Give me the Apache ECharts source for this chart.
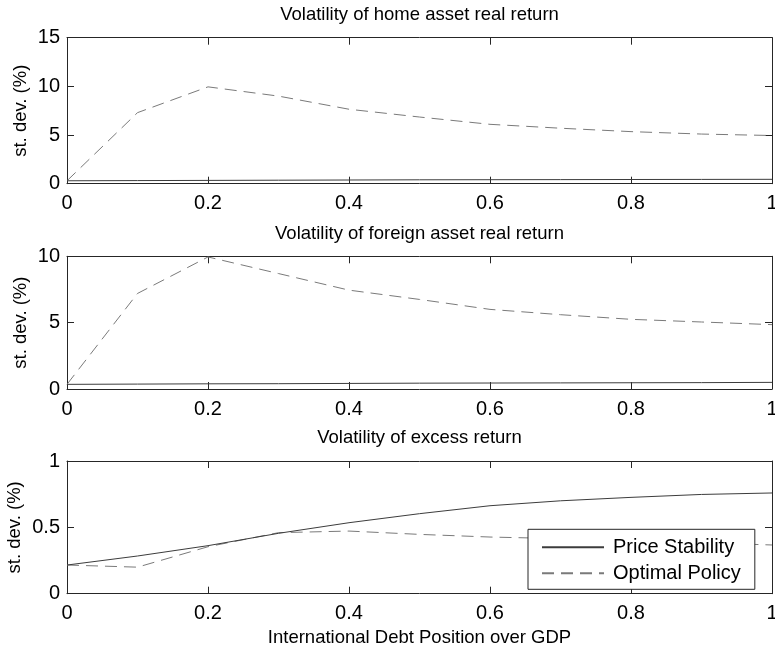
<!DOCTYPE html>
<html>
<head>
<meta charset="utf-8">
<script src="https://cdn.jsdelivr.net/npm/echarts@6/dist/echarts.min.js"></script>
<style>
  html, body { margin: 0; padding: 0; background: #fff; }
  #chart { width: 775px; height: 652px; }
</style>
</head>
<body>
<div id="chart"></div>
<script>
// Debt position over GDP (x values shared by all panels)
const debtPosition = [0, 0.1, 0.2, 0.3, 0.4, 0.5, 0.6, 0.7, 0.8, 0.9, 1.0];

// Panel 1: volatility of home asset real return (st. dev., %)
const homePriceStability = [0.30, 0.32, 0.34, 0.36, 0.38, 0.40, 0.41, 0.42, 0.43, 0.44, 0.45];
const homeOptimalPolicy  = [0.30, 7.30, 9.95, 9.00, 7.65, 6.85, 6.10, 5.70, 5.35, 5.10, 4.95];

// Panel 2: volatility of foreign asset real return (st. dev., %)
const foreignPriceStability = [0.35, 0.37, 0.39, 0.40, 0.42, 0.44, 0.45, 0.46, 0.47, 0.48, 0.50];
const foreignOptimalPolicy  = [0.35, 7.20, 9.95, 8.70, 7.45, 6.75, 6.00, 5.60, 5.25, 5.05, 4.85];

// Panel 3: volatility of excess return (st. dev., %)
const excessPriceStability = [0.216, 0.284, 0.362, 0.455, 0.535, 0.603, 0.663, 0.700, 0.726, 0.748, 0.759];
const excessOptimalPolicy  = [0.216, 0.200, 0.354, 0.460, 0.472, 0.447, 0.427, 0.415, 0.400, 0.385, 0.367];

const panelTitles = [
  'Volatility of home asset real return',
  'Volatility of foreign asset real return',
  'Volatility of excess return'
];
const yMax = [15, 10, 1];
const yInterval = [5, 5, 0.5];
const xTicks = ['0', '0.2', '0.4', '0.6', '0.8', '1'];
const seriesNames = ['Price Stability', 'Optimal Policy'];
const xLabel = 'International Debt Position over GDP';
const yLabel = 'st. dev. (%)';

const FONT = 'Liberation Sans, Arial, Helvetica, sans-serif';
const AXIS_COLOR = '#262626';
const SOLID_COLOR = '#3c3c3c';
const DASH_COLOR = '#7a7a7a';

const grids = [
  { left: 67, right: 3, top: 37.7, height: 146, outerBoundsMode: 'none', containLabel: false },
  { left: 67, right: 3, top: 256.3, height: 132.7, outerBoundsMode: 'none', containLabel: false },
  { left: 67, right: 3, top: 461, height: 132.7, outerBoundsMode: 'none', containLabel: false }
];
// y-axis title offset per panel (wider tick labels push it further out)
const yNameGap = [37, 37, 43];

const panels = [
  [homePriceStability, homeOptimalPolicy],
  [foreignPriceStability, foreignOptimalPolicy],
  [excessPriceStability, excessOptimalPolicy]
];

function pairs(ys) {
  return debtPosition.map((x, i) => [x, ys[i]]);
}

function fmtX(v) {
  const idx = Math.round(v / 0.2);
  return xTicks[idx] !== undefined ? xTicks[idx] : String(v);
}

const xAxes = [];
const yAxes = [];
const series = [];

grids.forEach((g, i) => {
  const common = {
    gridIndex: i,
    type: 'value',
    min: 0,
    axisLine: { show: true, onZero: false, lineStyle: { color: AXIS_COLOR, width: 1 } },
    axisTick: { show: true, inside: true, length: 7, lineStyle: { color: AXIS_COLOR, width: 1 } },
    splitLine: { show: false }
  };
  // bottom x axis with labels
  xAxes.push(Object.assign({}, common, {
    position: 'bottom',
    max: 1,
    interval: 0.2,
    axisLabel: { show: true, fontSize: 20, color: '#000', fontFamily: FONT, margin: 10, formatter: fmtX },
    name: i === 2 ? xLabel : '',
    nameLocation: 'middle',
    nameGap: 35,
    nameMoveOverlap: false,
    nameTextStyle: { fontSize: 18.5, color: '#000', fontFamily: FONT }
  }));
  // top x axis (box edge with ticks)
  xAxes.push(Object.assign({}, common, {
    position: 'top',
    max: 1,
    interval: 0.2,
    axisLabel: { show: false }
  }));
  // left y axis with labels
  yAxes.push(Object.assign({}, common, {
    position: 'left',
    max: yMax[i],
    interval: yInterval[i],
    axisLabel: { show: true, fontSize: 20, color: '#000', fontFamily: FONT, margin: 7 },
    name: yLabel,
    nameLocation: 'middle',
    nameRotate: 90,
    nameGap: yNameGap[i],
    nameMoveOverlap: false,
    nameTextStyle: { fontSize: 18.5, color: '#000', fontFamily: FONT }
  }));
  // right y axis (box edge with ticks)
  yAxes.push(Object.assign({}, common, {
    position: 'right',
    max: yMax[i],
    interval: yInterval[i],
    axisLabel: { show: false }
  }));

  const [ps, op] = panels[i];
  series.push({
    name: seriesNames[0],
    type: 'line',
    xAxisIndex: 2 * i,
    yAxisIndex: 2 * i,
    data: pairs(ps),
    symbol: 'none',
    smooth: false,
    lineStyle: { color: SOLID_COLOR, width: 1, type: 'solid' },
    itemStyle: { color: SOLID_COLOR },
    z: 3
  });
  series.push({
    name: seriesNames[1],
    type: 'line',
    xAxisIndex: 2 * i,
    yAxisIndex: 2 * i,
    data: pairs(op),
    symbol: 'none',
    smooth: false,
    lineStyle: { color: DASH_COLOR, width: 1, type: [12, 7] },
    itemStyle: { color: DASH_COLOR },
    z: 2
  });
});

const titleCenters = [15, 234, 438];
const titles = panelTitles.map((t, i) => ({
  text: t,
  left: 419.5,
  top: titleCenters[i] - 10,
  textAlign: 'center',
  padding: 0,
  textStyle: { fontSize: 18.5, fontWeight: 'normal', color: '#000', fontFamily: FONT }
}));

const chart = echarts.init(document.getElementById('chart'), null, { renderer: 'canvas' });
chart.setOption({
  animation: false,
  backgroundColor: '#fff',
  title: titles,
  grid: grids,
  xAxis: xAxes,
  yAxis: yAxes,
  legend: {
    data: seriesNames,
    orient: 'vertical',
    left: 528,
    top: 529.3,
    padding: [8, 14, 6, 13],
    itemGap: 6,
    itemWidth: 62,
    itemHeight: 14,
    backgroundColor: '#fff',
    borderColor: AXIS_COLOR,
    borderWidth: 1,
    borderRadius: 0,
    z: 10,
    selectedMode: false,
    itemStyle: { opacity: 0 },
    textStyle: { fontSize: 20, color: '#000', fontFamily: FONT, lineHeight: 20, padding: [0, 0, 0, 4] }
  },
  series: series
});
</script>
</body>
</html>
